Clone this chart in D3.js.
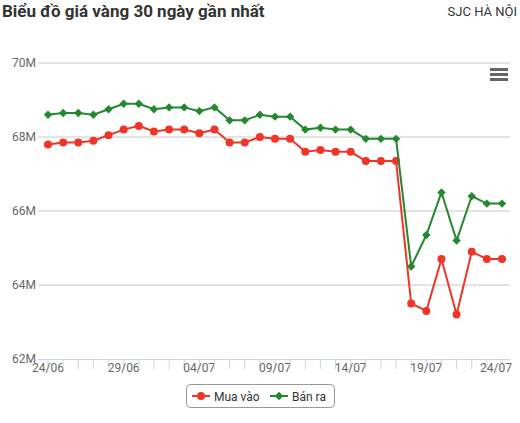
<!DOCTYPE html>
<html><head><meta charset="utf-8">
<script src="https://cdn.jsdelivr.net/npm/d3@7"></script>
<style>body{margin:0;font-family:Roboto,"Noto Sans",sans-serif;background:#fff}</style>
</head><body><div id="chart"></div>
<script>
const dates = ["24/06","25/06","26/06","27/06","28/06","29/06","30/06","01/07","02/07","03/07","04/07","05/07","06/07","07/07","08/07","09/07","10/07","11/07","12/07","13/07","14/07","15/07","16/07","17/07","18/07","19/07","20/07","21/07","22/07","23/07","24/07"]
const buy = [67.8,67.85,67.85,67.9,68.05,68.2,68.3,68.15,68.2,68.2,68.1,68.2,67.85,67.85,68.0,67.95,67.95,67.6,67.65,67.6,67.6,67.35,67.35,67.35,63.5,63.3,64.7,63.2,64.9,64.7,64.7]
const sell = [68.6,68.65,68.65,68.6,68.75,68.9,68.9,68.75,68.8,68.8,68.7,68.8,68.45,68.45,68.6,68.55,68.55,68.2,68.25,68.2,68.2,67.95,67.95,67.95,64.5,65.35,66.5,65.2,66.4,66.2,66.2]
const yTicks = [62,64,66,68,70]

const W = 520, H = 423
const svg = d3.select("#chart").append("svg").attr("width", W).attr("height", H)

const x = d3.scaleLinear().domain([0, dates.length - 1]).range([48, 502])
const y = d3.scaleLinear().domain([62, 70]).range([359, 63])

svg.append("text").attr("x", 2).attr("y", 17).attr("font-size", 17).attr("font-weight", "bold")
  .attr("fill", "#333").text("Biểu đồ giá vàng 30 ngày gần nhất")
svg.append("text").attr("x", 517).attr("y", 16).attr("font-size", 13).attr("text-anchor", "end")
  .attr("fill", "#333").text("SJC HÀ NỘI")

// gridlines + y labels
yTicks.forEach(t => {
  if (t > 62) svg.append("line").attr("x1", 38).attr("x2", 510).attr("y1", y(t)).attr("y2", y(t))
    .attr("stroke", "#c8c8c8")
  svg.append("text").attr("x", 36).attr("y", y(t) + 4).attr("text-anchor", "end")
    .attr("font-size", 12).attr("fill", "#666").text(t + "M")
})

// x axis
svg.append("line").attr("x1", 38).attr("x2", 510).attr("y1", 359.5).attr("y2", 359.5).attr("stroke", "#ccd6eb")
dates.forEach((d, i) => {
  svg.append("line").attr("x1", x(i)).attr("x2", x(i)).attr("y1", 359).attr("y2", 369).attr("stroke", "#ccd6eb")
  if (i % 5 === 0) svg.append("text").attr("x", Math.min(x(i), 496)).attr("y", 372).attr("text-anchor", "middle")
    .attr("font-size", 12).attr("fill", "#666").text(d)
})

// menu icon
;[0, 5, 10].forEach(o => svg.append("rect").attr("x", 490).attr("y", 68 + o).attr("width", 18).attr("height", 3).attr("fill", "#666"))

const line = d3.line().x((d, i) => x(i)).y(d => y(d))
function series(data, color, diamond) {
  svg.append("path").datum(data).attr("d", line).attr("fill", "none").attr("stroke", color).attr("stroke-width", 2)
  const sym = d3.symbol().type(diamond ? d3.symbolDiamond2 : d3.symbolCircle).size(diamond ? 45 : 50)
  svg.selectAll(null).data(data).enter().append("path")
    .attr("transform", (d, i) => `translate(${x(i)},${y(d)})`).attr("d", sym).attr("fill", color)
}
series(buy, "#ef3528", false)
series(sell, "#24882e", true)

// legend
const lg = svg.append("g")
lg.append("rect").attr("x", 186.5).attr("y", 384.5).attr("width", 148).attr("height", 23).attr("rx", 4)
  .attr("fill", "#fff").attr("stroke", "#999")
lg.append("line").attr("x1", 192).attr("x2", 210).attr("y1", 396).attr("y2", 396).attr("stroke", "#ef3528").attr("stroke-width", 2)
lg.append("circle").attr("cx", 201).attr("cy", 396).attr("r", 4).attr("fill", "#ef3528")
lg.append("text").attr("x", 214).attr("y", 400.5).attr("font-size", 12).attr("fill", "#333").text("Mua vào")
lg.append("line").attr("x1", 270).attr("x2", 288).attr("y1", 396).attr("y2", 396).attr("stroke", "#24882e").attr("stroke-width", 2)
lg.append("path").attr("transform", "translate(279,396)").attr("d", d3.symbol().type(d3.symbolDiamond2).size(45)).attr("fill", "#24882e")
lg.append("text").attr("x", 292).attr("y", 400.5).attr("font-size", 12).attr("fill", "#333").text("Bán ra")
</script></body></html>
